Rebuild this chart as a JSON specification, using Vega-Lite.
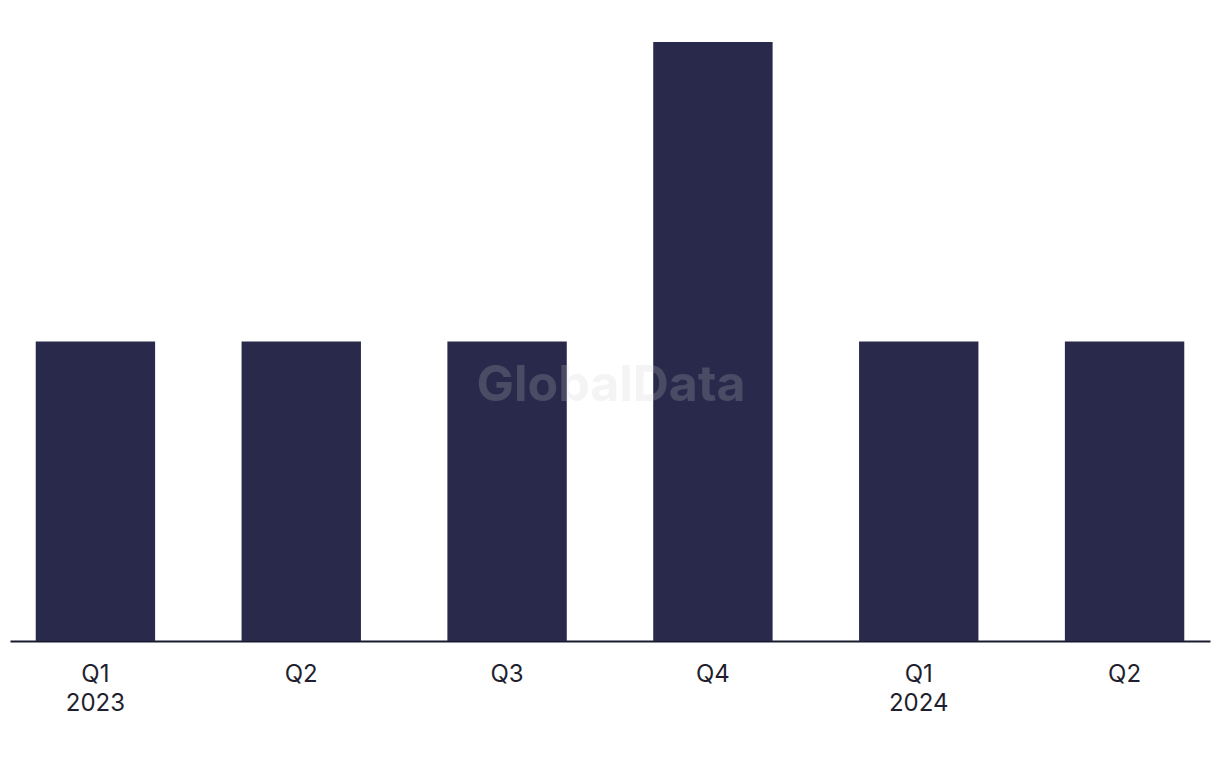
{
  "$schema": "https://vega.github.io/schema/vega-lite/v6.json",
  "width": 1200,
  "height": 599,
  "padding": {"left": 10, "top": 42, "right": 10, "bottom": 5},
  "background": "white",
  "config": {"view": {"stroke": null}, "font": "Inter"},
  "layer": [
    {
      "data": {"values": [
        {"quarter": "Q1 2023", "value": 1},
        {"quarter": "Q2 2023", "value": 1},
        {"quarter": "Q3 2023", "value": 1},
        {"quarter": "Q4 2023", "value": 2},
        {"quarter": "Q1 2024", "value": 1},
        {"quarter": "Q2 2024", "value": 1}
      ]},
      "mark": {"type": "bar", "color": "#29294b"},
      "encoding": {
        "x": {
          "field": "quarter", "type": "ordinal", "sort": null,
          "scale": {"paddingInner": 0.42, "paddingOuter": 0.125},
          "axis": {
            "title": null, "ticks": false, "domainColor": "#1a1a2e", "domainWidth": 2,
            "labelAngle": 0, "labelFontSize": 24, "labelFont": "Inter", "labelColor": "#1f1f30", "labelPadding": 21,
            "labelLineHeight": 29,
            "labelExpr": "indexof(datum.value, 'Q1') == 0 ? split(datum.value, ' ') : slice(datum.value, 0, 2)"
          }
        },
        "y": {
          "field": "value", "type": "quantitative",
          "scale": {"domain": [0, 2], "nice": false},
          "axis": null
        }
      }
    },
    {
      "data": {"values": [{"watermark": "GlobalData"}]},
      "mark": {"type": "text", "fontSize": 50, "fontWeight": "bold", "fill": "#cbcbcb", "fillOpacity": 0.21, "align": "center", "baseline": "middle", "font": "Inter"},
      "encoding": {
        "x": {"datum": "Q3 2023", "type": "ordinal", "bandPosition": 1.37},
        "y": {"datum": 0.85, "type": "quantitative"},
        "text": {"field": "watermark"}
      }
    }
  ]
}
